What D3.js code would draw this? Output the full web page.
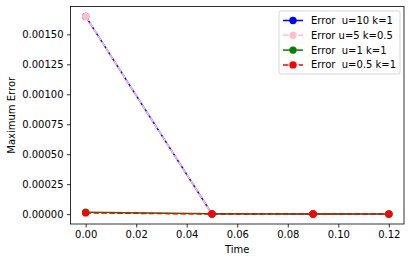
<!DOCTYPE html>
<html>
<head>
<meta charset="utf-8">
<script src="https://cdn.jsdelivr.net/npm/d3@7"></script>
<style>
  body { margin: 0; background: #fff; }
  text { font-family: "DejaVu Sans", sans-serif; }
</style>
</head>
<body>
<div id="chart"></div>
<script>
const times = [0, 0.05, 0.09, 0.12];
const errU10 = [0.00165, 0.000001, 0.0000005, 0.0000003];
const errU5 = [0.00165, 0.000001, 0.0000005, 0.0000003];
const errU1 = [0.000015, 0.000002, 0.000001, 0.0000005];
const errU05 = [0.00001, 0.000001, 0.0000005, 0.0000003];
const xTicks = [0, 0.02, 0.04, 0.06, 0.08, 0.10, 0.12];
const yTicks = [0, 0.00025, 0.0005, 0.00075, 0.001, 0.00125, 0.0015];

const series = [
  { label: 'Error  u=10 k=1', values: errU10, color: 'blue', dash: null },
  { label: 'Error u=5 k=0.5', values: errU5, color: 'pink', dash: '5.5,2' },
  { label: 'Error  u=1 k=1', values: errU1, color: 'green', dash: null },
  { label: 'Error  u=0.5 k=1', values: errU05, color: 'red', dash: '5.5,2.4' }
];

const width = 411, height = 262;
const m = { left: 70.5, top: 6.5, right: 404, bottom: 224 };

const svg = d3.select('#chart').append('svg')
  .attr('width', width)
  .attr('height', height);

const x = d3.scaleLinear().domain([-0.006, 0.126]).range([m.left, m.right]);
const y = d3.scaleLinear().domain([-0.0000825, 0.0017325]).range([m.bottom, m.top]);

// axes
svg.append('g')
  .attr('transform', `translate(0,${m.bottom})`)
  .call(d3.axisBottom(x).tickValues(xTicks).tickFormat(d3.format('.2f')).tickSize(3.5).tickPadding(3.5))
  .call(g => g.select('.domain').remove());

svg.append('g')
  .attr('transform', `translate(${m.left},0)`)
  .call(d3.axisLeft(y).tickValues(yTicks).tickFormat(d3.format('.5f')).tickSize(3.5).tickPadding(3.5))
  .call(g => g.select('.domain').remove());

svg.selectAll('.tick text').attr('font-size', 10).attr('fill', '#000');
svg.selectAll('.tick line').attr('stroke', '#000').attr('stroke-width', 0.8);

const line = d3.line().x((d, i) => x(times[i])).y(d => y(d));

series.forEach(s => {
  svg.append('path')
    .datum(s.values)
    .attr('d', line)
    .attr('fill', 'none')
    .attr('stroke', s.color)
    .attr('stroke-width', 1.5)
    .attr('stroke-dasharray', s.dash);
  svg.selectAll(null)
    .data(s.values)
    .enter().append('circle')
    .attr('cx', (d, i) => x(times[i]))
    .attr('cy', d => y(d))
    .attr('r', 3.7)
    .attr('fill', s.color);
});

// frame
svg.append('rect')
  .attr('x', m.left).attr('y', m.top)
  .attr('width', m.right - m.left).attr('height', m.bottom - m.top)
  .attr('fill', 'none').attr('stroke', '#000').attr('stroke-width', 0.8);

// labels
svg.append('text')
  .attr('x', (m.left + m.right) / 2).attr('y', 253)
  .attr('text-anchor', 'middle').attr('font-size', 10)
  .text('Time');

svg.append('text')
  .attr('transform', `translate(14.5,${(m.top + m.bottom) / 2}) rotate(-90)`)
  .attr('text-anchor', 'middle').attr('font-size', 10)
  .text('Maximum Error');

// legend
const legend = svg.append('g');
legend.append('rect')
  .attr('x', 279).attr('y', 11)
  .attr('width', 121).attr('height', 63).attr('rx', 2)
  .attr('fill', '#fff').attr('fill-opacity', 0.8)
  .attr('stroke', '#ccc').attr('stroke-width', 0.8);

series.forEach((s, i) => {
  const ly = 20.5 + i * 14.8;
  legend.append('line')
    .attr('x1', 283).attr('x2', 303).attr('y1', ly).attr('y2', ly)
    .attr('stroke', s.color).attr('stroke-width', 1.5)
    .attr('stroke-dasharray', s.dash);
  legend.append('circle')
    .attr('cx', 293).attr('cy', ly).attr('r', 3.7).attr('fill', s.color);
  legend.append('text')
    .attr('x', 311).attr('y', ly + 3.5)
    .attr('font-size', 10)
    .style('white-space', 'pre')
    .text(s.label);
});
</script>
</body>
</html>
